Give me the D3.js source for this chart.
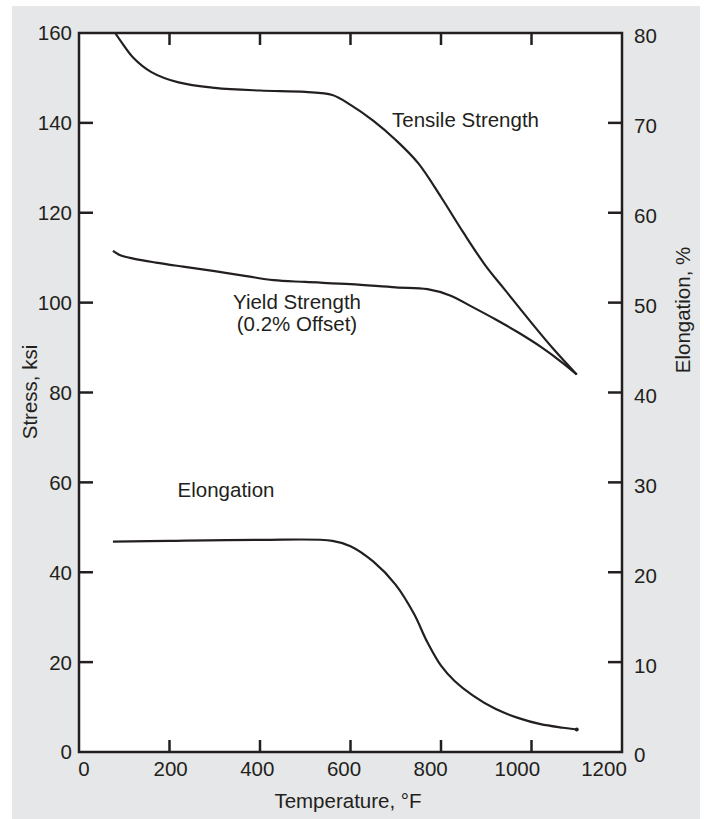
<!DOCTYPE html>
<html><head><meta charset="utf-8">
<script src="https://cdn.jsdelivr.net/npm/d3@7"></script>
<style>
html,body{margin:0;padding:0;background:#fff;}
text{font-family:"Liberation Sans",Arial,Helvetica,sans-serif;fill:#231f20;}
</style></head>
<body>
<svg id="chart" width="704" height="819"></svg>
<script>
// Temperature (°F), Stress (ksi)
const tensileTemp = [80,95,120,160,220,300,400,500,560,600,650,700,750,800,850,900,940,1000,1050,1100];
const tensileKsi  = [160,157.8,154.5,151.3,149,147.8,147.2,146.9,146.2,144,140.5,136.2,131,123.5,115.5,108,103,95.5,89.5,84];
const yieldTemp = [75,90,120,170,230,300,370,430,500,600,700,770,820,870,920,970,1020,1070,1100];
const yieldKsi  = [111.5,110.6,109.8,108.9,108,107,105.9,105,104.6,104.1,103.4,103,101.6,99,96.3,93.4,90.2,86.5,84];
const elongTemp = [75,200,400,560,600,650,700,740,770,800,830,870,920,970,1020,1070,1100];
const elongPct  = [23.4,23.5,23.6,23.5,22.9,21.2,18.6,15.4,12.2,9.6,7.9,6.3,4.8,3.8,3.1,2.7,2.5];
const xTicks = [0,200,400,600,800,1000,1200];
const yLeftTicks = [0,20,40,60,80,100,120,140,160];
const yRightTicks = [0,10,20,30,40,50,60,70,80];

const svg = d3.select("#chart");
const L = 79, R = 622, T = 33, B = 752;

svg.append("rect").attr("x",12).attr("y",6).attr("width",688).attr("height",813).attr("fill","#e6e7e8");
svg.append("rect").attr("x",L).attr("y",T).attr("width",R-L).attr("height",B-T).attr("fill","#fff");

const x = d3.scaleLinear().domain([0,1200]).range([L,R]);
const xl = d3.scaleLinear().domain([0,1200]).range([84,604]);
const yL = d3.scaleLinear().domain([0,160]).range([B,T]);
const yR = d3.scaleLinear().domain([0,80]).range([B,T]);

const ink = "#231f20";
const tk = 14;
const g = svg.append("g").attr("stroke",ink).attr("stroke-width",2.5);
xTicks.filter(v=>v>0&&v<1200).forEach(v=>{
  g.append("line").attr("x1",x(v)).attr("x2",x(v)).attr("y1",T).attr("y2",T+12);
  g.append("line").attr("x1",x(v)).attr("x2",x(v)).attr("y1",B).attr("y2",B-12);
});
yLeftTicks.filter(v=>v>0&&v<160).forEach(v=>{
  g.append("line").attr("x1",L).attr("x2",L+tk).attr("y1",yL(v)).attr("y2",yL(v));
});
yRightTicks.filter(v=>v>0&&v<80).forEach(v=>{
  g.append("line").attr("x1",R).attr("x2",R-tk).attr("y1",yR(v)).attr("y2",yR(v));
});
svg.append("rect").attr("x",L).attr("y",T).attr("width",R-L).attr("height",B-T)
  .attr("fill","none").attr("stroke",ink).attr("stroke-width",2.5);

const fs = "20.5px";
svg.append("g").selectAll("text").data(xTicks).join("text")
  .attr("x",d=>xl(d)).attr("y",776).attr("text-anchor","middle").attr("font-size",fs).text(d=>d);
svg.append("g").selectAll("text").data(yLeftTicks).join("text")
  .attr("x",72).attr("y",d=>yL(d)).attr("dy","0.36em").attr("text-anchor","end").attr("font-size",fs).text(d=>d);
svg.append("g").selectAll("text").data(yRightTicks).join("text")
  .attr("x",634).attr("y",d=>yR(d)+3).attr("dy","0.36em").attr("text-anchor","start").attr("font-size",fs).text(d=>d);

svg.append("text").attr("x",348).attr("y",808).attr("text-anchor","middle").attr("font-size",fs).text("Temperature, °F");
svg.append("text").attr("transform","translate(37,392) rotate(-90)").attr("text-anchor","middle").attr("font-size",fs).text("Stress, ksi");
svg.append("text").attr("transform","translate(690,310) rotate(-90)").attr("text-anchor","middle").attr("font-size",fs).text("Elongation, %");

const line = (ys)=>d3.line().x(d=>x(d[0])).y(d=>ys(d[1])).curve(d3.curveCatmullRom.alpha(0.5));
const tens = tensileTemp.map((t,i)=>[t,tensileKsi[i]]);
const yld = yieldTemp.map((t,i)=>[t,yieldKsi[i]]);
const elo = elongTemp.map((t,i)=>[t,elongPct[i]]);
const cg = svg.append("g").attr("fill","none").attr("stroke",ink).attr("stroke-width",2.2).attr("stroke-linejoin","round");
cg.append("path").attr("d",line(yL)(tens));
cg.append("path").attr("d",line(yL)(yld));
cg.append("path").attr("d",line(yR)(elo));
svg.append("circle").attr("cx",x(elo[elo.length-1][0])).attr("cy",yR(elo[elo.length-1][1])).attr("r",2).attr("fill",ink);

svg.append("text").attr("x",392).attr("y",127).attr("font-size",fs).text("Tensile Strength");
svg.append("text").attr("x",297).attr("y",309).attr("text-anchor","middle").attr("font-size",fs).text("Yield Strength");
svg.append("text").attr("x",297).attr("y",331).attr("text-anchor","middle").attr("font-size",fs).text("(0.2% Offset)");
svg.append("text").attr("x",226).attr("y",497).attr("text-anchor","middle").attr("font-size",fs).text("Elongation");
</script>
</body></html>
